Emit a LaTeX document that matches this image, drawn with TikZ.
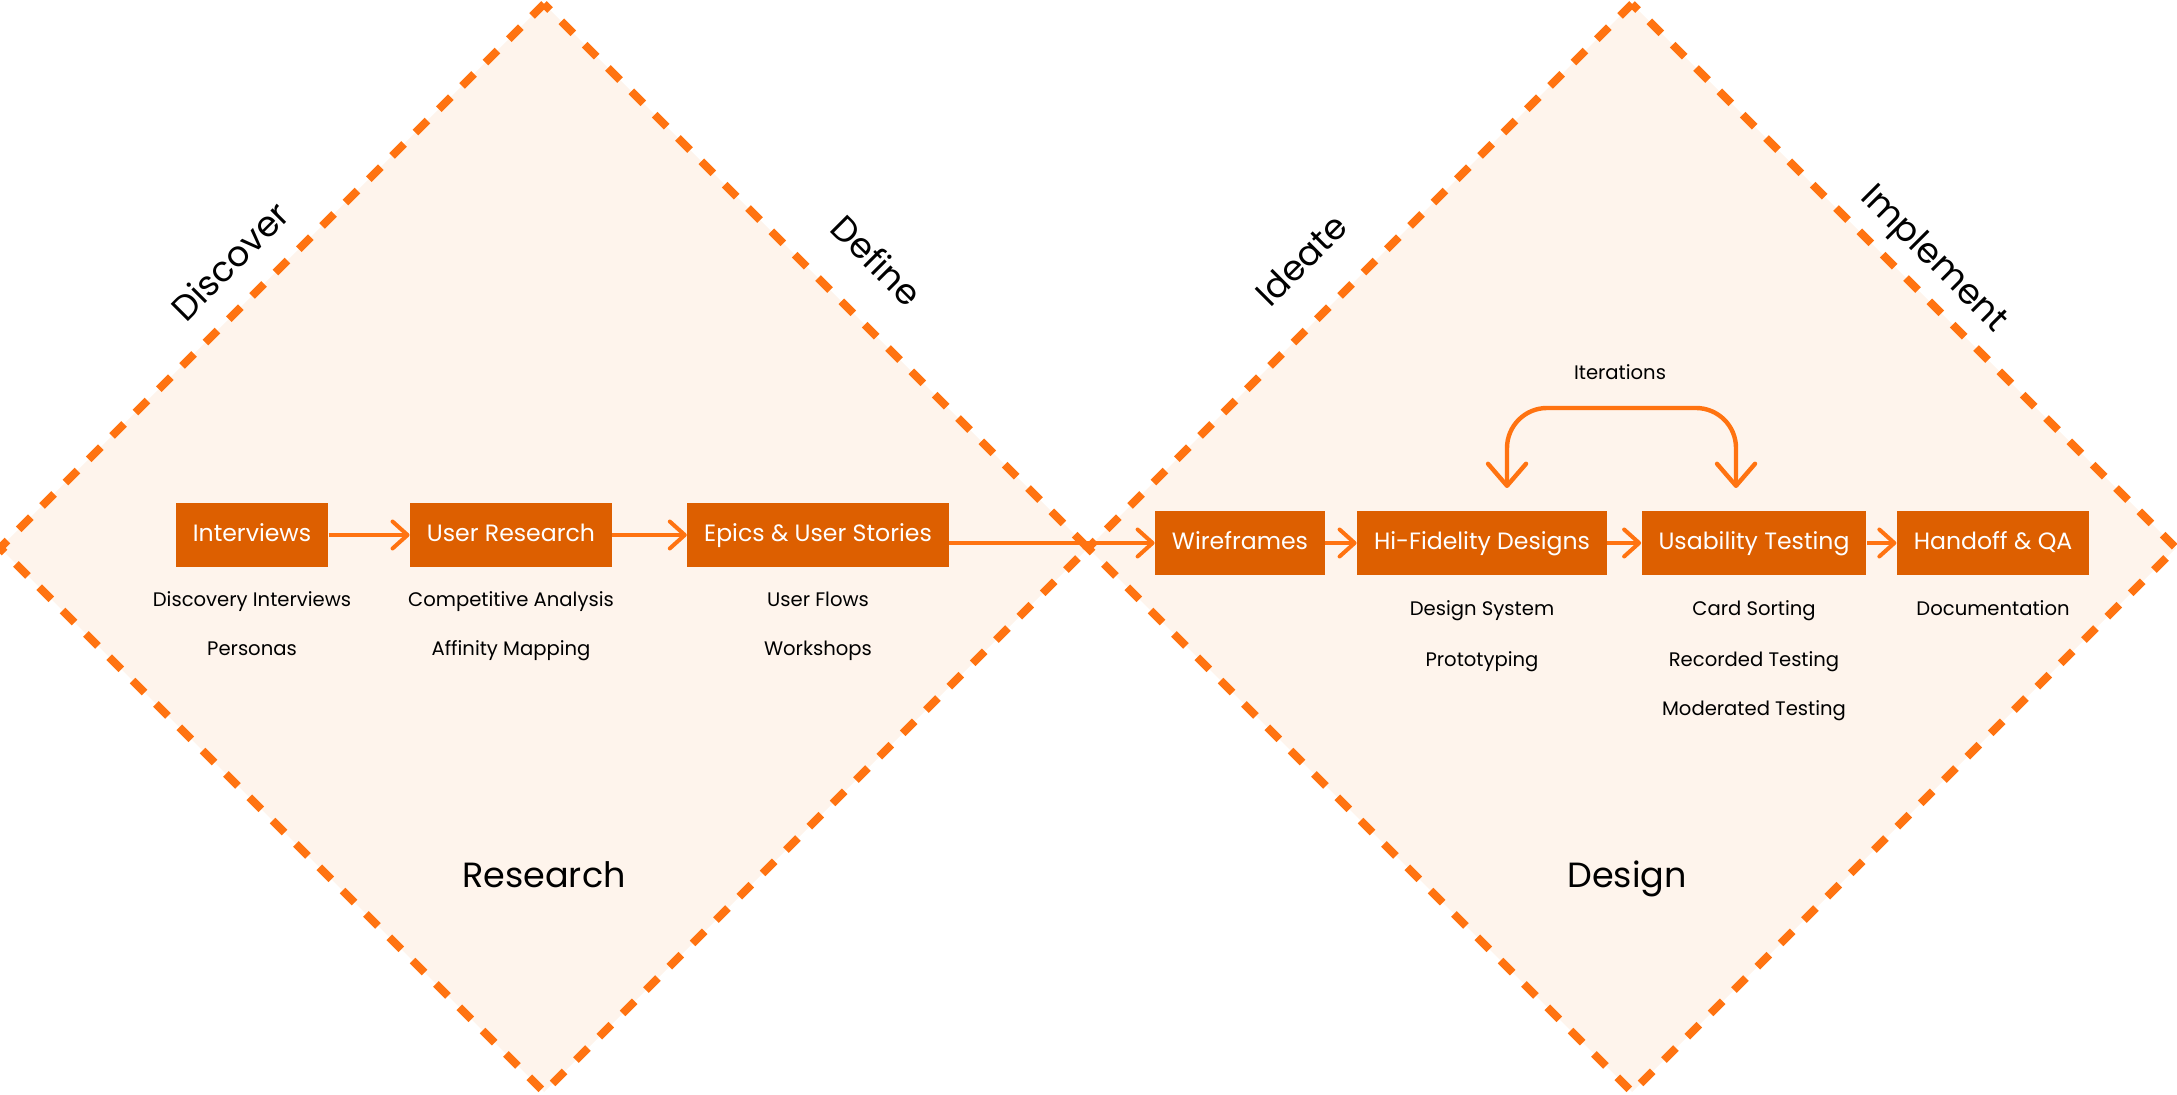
\documentclass[tikz,border=0pt]{standalone}
\usepackage{fontspec}
\setmainfont{Poppins}
\usetikzlibrary{arrows.meta, positioning, calc}
\definecolor{corange}{HTML}{FF7311}
\definecolor{cbox}{HTML}{DD5F00}
\definecolor{cpeach}{HTML}{FEF4EC}
\tikzset{
  every picture/.style={x=0.5pt, y=-0.5pt},
  stage/.style={fill=cbox, text=white, font=\fontsize{11.8}{14}\selectfont, inner xsep=8.5pt, text height=0.7em, text depth=0pt, minimum height=32pt},
  sub/.style={font=\fontsize{9.8}{12}\selectfont, text=black, text height=0.7em, text depth=0pt},
  phase/.style={font=\fontsize{17.5}{20}\selectfont, text=black},
  rim/.style={draw=corange, line width=4pt, dash pattern=on 8.5pt off 8pt, dash phase=4.25pt},
  flow/.style={-{Straight Barb[length=7.5pt, width=13.5pt, round]}, draw=corange, line width=2pt},
  iter/.style={{Straight Barb[length=11pt, width=19pt, round]}-{Straight Barb[length=11pt, width=19pt, round]}, draw=corange, line width=2.2pt, rounded corners=20pt},
}

\begin{document}
\begin{tikzpicture}
  \useasboundingbox (0,0) rectangle (2177,1095);
  % two diamonds
  \fill[cpeach] (544,4) -- (1088,548) -- (544,1092) -- (0,548) -- cycle;
  \fill[cpeach] (1632,4) -- (2176,548) -- (1632,1092) -- (1088,548) -- cycle;
  \draw[rim] (544,4) -- (1088,548) -- (544,1092) -- (0,548) -- cycle;
  \draw[rim] (1632,4) -- (2176,548) -- (1632,1092) -- (1088,548) -- cycle;
  % phase names
  \node[phase, rotate=45] (discover) at (230,261) {Discover};
  \node[phase, rotate=-45] (define) at (877,260) {Define};
  \node[phase, rotate=45] (ideate) at (1301,260) {Ideate};
  \node[phase, rotate=-45] (implement) at (1933,260) {Implement};
  \node[phase, anchor=base] (research) at (544,887) {Research};
  \node[phase, anchor=base] (design) at (1627,887) {Design};
  % research stages
  \node[stage] (intv) at (252,535) {Interviews};
  \node[stage] (ures) at (511,535) {User Research};
  \node[stage] (epics) at (818,535) {Epics \& User Stories};
  \node[sub] (disc) at (252,600) {Discovery Interviews};
  \node[sub] (pers) at (252,648) {Personas};
  \node[sub] (comp) at (511,600) {Competitive Analysis};
  \node[sub] (affi) at (511,648) {Affinity Mapping};
  \node[sub] (flows) at (818,600) {User Flows};
  \node[sub] (works) at (818,648) {Workshops};
  % design stages
  \node[stage] (wire) at (1240,543) {Wireframes};
  \node[stage] (hifi) at (1482,543) {Hi-Fidelity Designs};
  \node[stage] (usab) at (1754,543) {Usability Testing};
  \node[stage] (hand) at (1993,543) {Handoff \& QA};
  \node[sub] (dsys) at (1482,609) {Design System};
  \node[sub] (proto) at (1482,659) {Prototyping};
  \node[sub] (card) at (1754,609) {Card Sorting};
  \node[sub] (rec) at (1754,659) {Recorded Testing};
  \node[sub] (mod) at (1754,708) {Moderated Testing};
  \node[sub] (docs) at (1993,609) {Documentation};
  % flow
  \draw[flow] (intv) -- (ures);
  \draw[flow] (ures) -- (epics);
  \draw[flow] (epics.east |- wire.west) -- (wire.west);
  \draw[flow] (wire) -- (hifi);
  \draw[flow] (hifi) -- (usab);
  \draw[flow] (usab) -- (hand);
  % iteration loop
  \coordinate (itL) at (1507,488);
  \coordinate (itR) at (1736,488);
  \draw[iter] (itL) -- ++(0,-80) -| (itR);
  \node[sub] (iters) at (1620,373) {Iterations};
\end{tikzpicture}
\end{document}
